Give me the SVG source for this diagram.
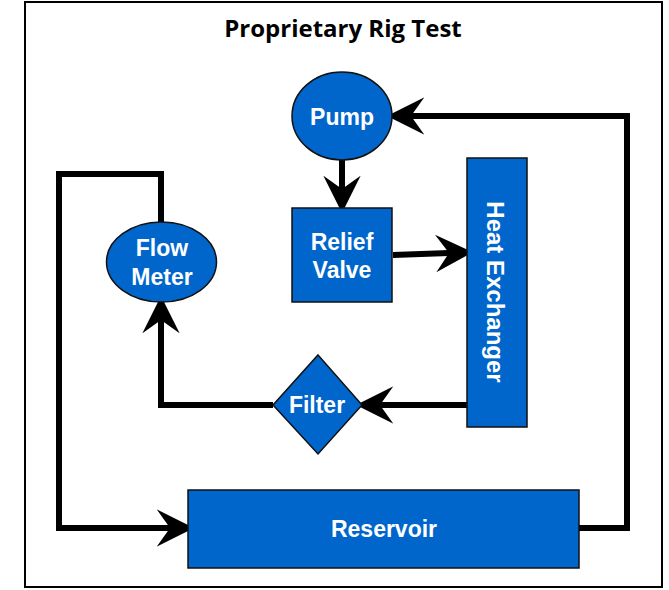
<svg xmlns="http://www.w3.org/2000/svg" width="669" height="590" viewBox="0 0 669 590">
<style>
.node{fill:#0066CC;stroke:#111;stroke-width:1.5}
.lbl{font-family:"Liberation Sans",Arial,sans-serif;font-weight:bold;font-size:23px;fill:#fff;text-anchor:middle}
.conn{fill:none;stroke:#000;stroke-width:6;stroke-linejoin:miter}
.title{font-family:"Open Sans",Lato,sans-serif;font-weight:bold;font-size:24px;fill:#000;text-anchor:middle}
</style>
<defs>
<marker id="ah" markerUnits="userSpaceOnUse" markerWidth="40" markerHeight="40" viewBox="0 -15 30 30" refX="10" refY="0" orient="auto">
<path d="M0,-14 L28,0 L0,14 L10,0 Z" fill="#000"/>
</marker>
</defs>
<rect x="25" y="2" width="637" height="585" fill="#fff" stroke="#000" stroke-width="2"/>
<text class="title" x="343" y="37">Proprietary Rig Test</text>
<g id="connectors">
<path class="conn" d="M342,160 L342,189" marker-end="url(#ah)"/>
<path class="conn" d="M393,255 L449,253" marker-end="url(#ah)"/>
<path class="conn" d="M467,405 L380,405" marker-end="url(#ah)"/>
<path class="conn" d="M273,405 L161,405 L161,320" marker-end="url(#ah)"/>
<path class="conn" d="M161,222 L161,174 L59,174 L59,528 L170,528" marker-end="url(#ah)"/>
<path class="conn" d="M579,528 L627,528 L627,116 L411,116" marker-end="url(#ah)"/>
</g>
<g id="pump">
<ellipse class="node" cx="342" cy="116" rx="50" ry="44"/>
<text class="lbl" x="342" y="125">Pump</text>
</g>
<g id="relief-valve">
<rect class="node" x="292" y="208" width="100" height="94"/>
<text class="lbl" x="342" y="250">Relief</text>
<text class="lbl" x="342" y="278">Valve</text>
</g>
<g id="heat-exchanger">
<rect class="node" x="467" y="158" width="60" height="269"/>
<text class="lbl" x="0" y="0" transform="translate(487,292) rotate(90)" style="font-size:24px">Heat Exchanger</text>
</g>
<g id="filter">
<polygon class="node" points="318,355 362,405 318,454 273,405"/>
<text class="lbl" x="317" y="413">Filter</text>
</g>
<g id="flow-meter">
<ellipse class="node" cx="161.5" cy="262" rx="55" ry="40"/>
<text class="lbl" x="162" y="256">Flow</text>
<text class="lbl" x="162" y="285">Meter</text>
</g>
<g id="reservoir">
<rect class="node" x="188" y="490" width="391" height="78"/>
<text class="lbl" x="384" y="537">Reservoir</text>
</g>
</svg>
